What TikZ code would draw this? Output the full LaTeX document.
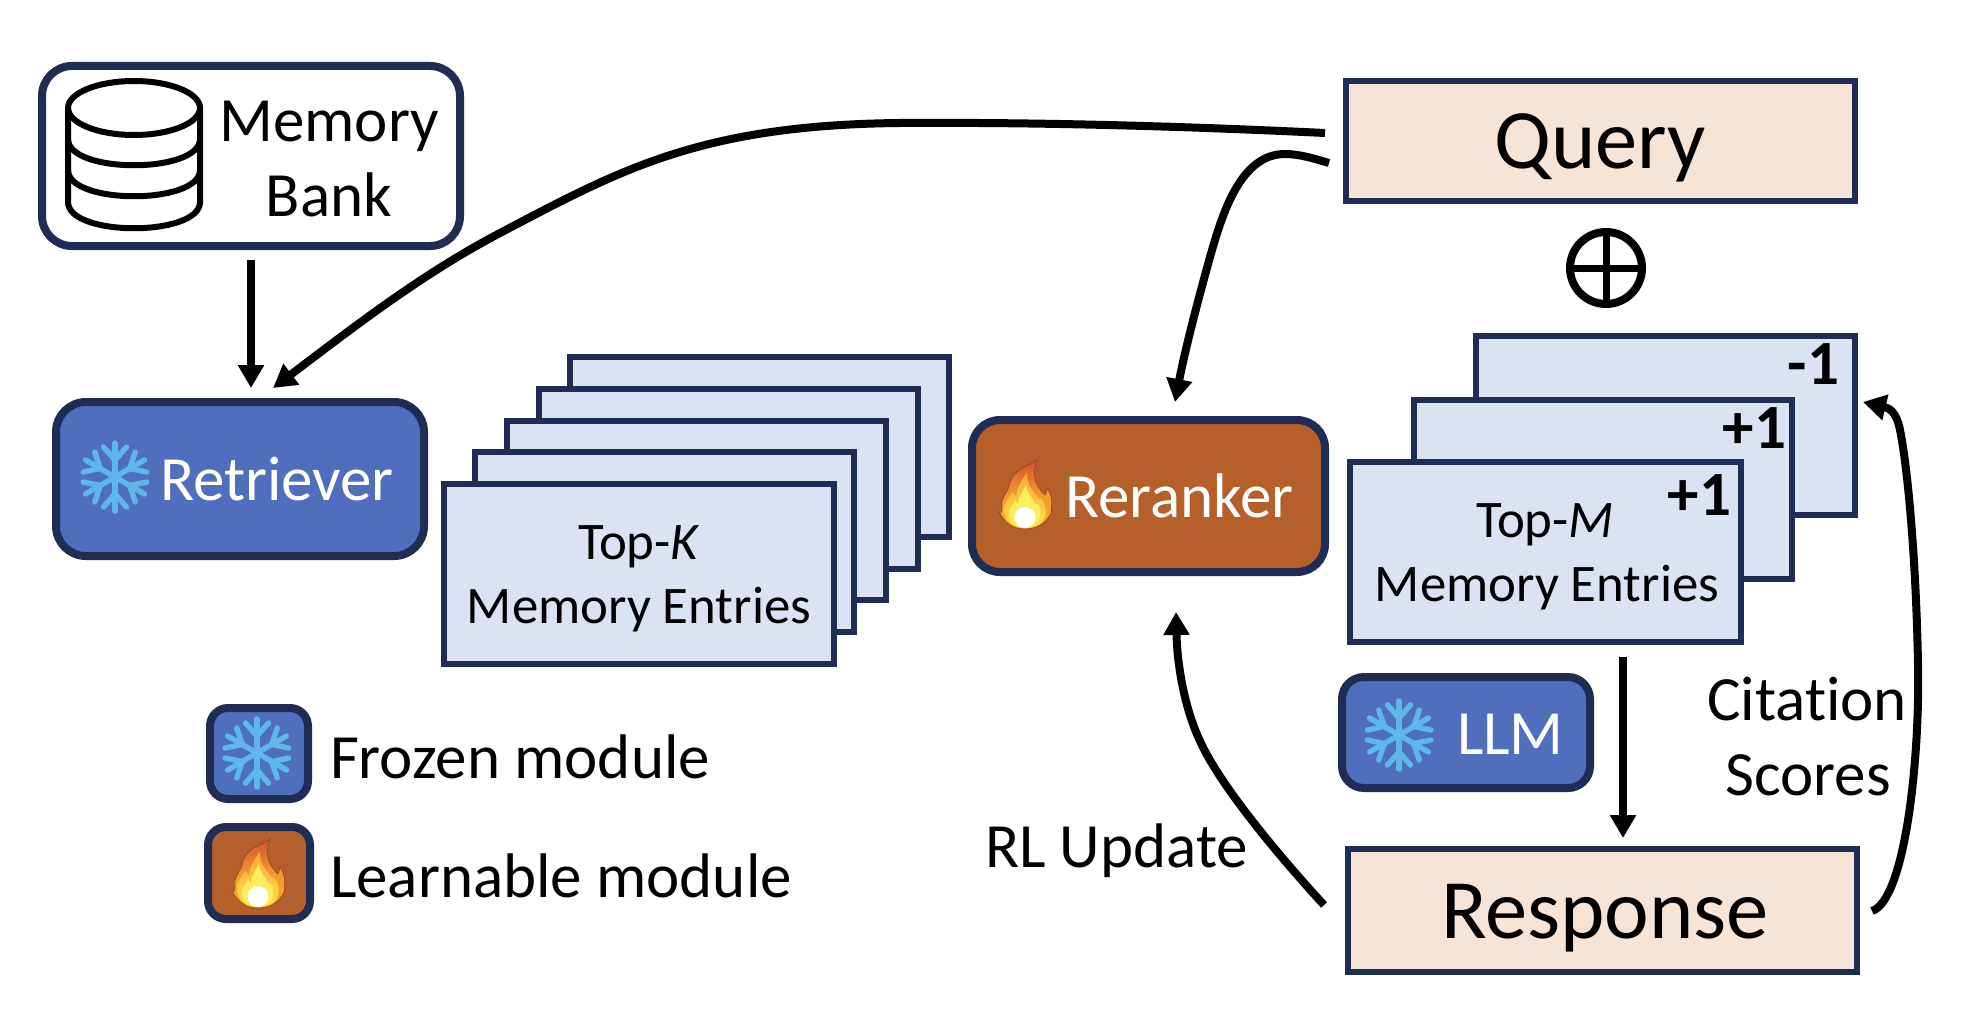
\documentclass[tikz,border=0pt]{standalone}
\usepackage{fontspec}
\setmainfont{Carlito}[Ligatures=NoCommon]
\usetikzlibrary{arrows.meta}
\definecolor{navy}{HTML}{1F2D54}
\definecolor{frozenblue}{HTML}{4F6FBD}
\definecolor{learnorange}{HTML}{B5602B}
\definecolor{peach}{HTML}{F6E4D7}
\definecolor{pale}{HTML}{DBE2F1}
\definecolor{flakeblue}{HTML}{5EB7E8}
\definecolor{fireA}{HTML}{D4502C}
\definecolor{fireB}{HTML}{F29A2E}
\definecolor{fireC}{HTML}{F7B02E}
\definecolor{fireD}{HTML}{F9A93A}
\definecolor{fireE}{HTML}{FCE04A}
\definecolor{fireF}{HTML}{FBEE5C}
\newcommand{\fsz}[1]{\fontsize{#1}{#1}\selectfont}
\newcommand{\rbox}[6]{\node[#6, minimum width={#4-#2}, minimum height={#5-#3}] (#1) at ({(#2+#4)/2},{(#3+#5)/2}) {};}
\tikzset{
  allnodes/.style={inner sep=0pt, outer sep=0pt},
  modulebox/.style={allnodes, draw=navy, line width=8pt, rectangle, rounded corners=#1},
  frozenbox/.style={modulebox=#1, fill=frozenblue},
  learnbox/.style={modulebox=#1, fill=learnorange},
  bankbox/.style={modulebox=30pt, fill=white},
  entrybox/.style={allnodes, draw=navy, line width=6pt, fill=pale, rectangle},
  peachbox/.style={allnodes, draw=navy, line width=6pt, fill=peach, rectangle},
  label/.style={allnodes, anchor=base, text=black, font=\fsz{63}},
  wlabel/.style={label, text=white},
  entrylabel/.style={label, font=\fsz{52.8}},
  bigl/.style={label, font=\fsz{84.5}},
  score/.style={allnodes, anchor=base east, font=\fsz{63}\bfseries},
  link/.style={line width=8pt, draw=black, line cap=butt, -{Triangle[length=23pt,width=25pt]}},
  cyl/.style={line width=6pt, draw=black, line join=round},
  flakeline/.style={line width=5.4pt, draw=flakeblue, line cap=round},
  flake/.pic={
    \foreach \a in {0,60,120,180,240,300}{
      \begin{scope}[rotate=\a]
        \draw[flakeline] (0,0) -- (0,-34);
        \draw[flakeline] (0,-17) -- (-11.5,-30);
        \draw[flakeline] (0,-17) -- (11.5,-30);
      \end{scope}
    }
  },
  fire/.pic={
    % outer flame
    \path[shade, top color=fireA, bottom color=fireC, middle color=fireB, draw=fireA!70!black, line width=0.5pt]
      (0,0) .. controls (-12,0) and (-20,-6) .. (-26,-17)
      .. controls (-23,-16) and (-23,-17) .. (-23,-21)
      .. controls (-25,-32) and (-16,-36) .. (-15,-47)
      .. controls (-11,-60) and (2,-62) .. (12,-69)
      .. controls (8,-58) and (9,-48) .. (14,-41)
      .. controls (17,-37) and (18,-35) .. (20,-34)
      .. controls (21,-37) and (22,-39) .. (22,-41)
      .. controls (26,-35) and (28,-28) .. (26,-20)
      .. controls (26,-17) and (26,-16) .. (27,-18)
      .. controls (23,-8) and (14,0) .. (0,0) -- cycle;
    % middle flame
    \path[shade, top color=fireD, bottom color=fireE]
      (0,-1) .. controls (-12,-1) and (-21,-8) .. (-21,-20)
      .. controls (-21,-28) and (-15,-31) .. (-13,-37)
      .. controls (-11,-35) and (-10,-34) .. (-9,-32)
      .. controls (-8,-42) and (-3,-50) .. (2,-56)
      .. controls (1,-45) and (8,-39) .. (12,-32)
      .. controls (14,-30) and (15,-29) .. (16,-31)
      .. controls (22,-23) and (23,-12) .. (15,-5)
      .. controls (10,-2) and (5,-1) .. (0,-1) -- cycle;
    % yellow core
    \path[fill=fireF]
      (0,-1) .. controls (-11,-1) and (-16,-8) .. (-16,-15)
      .. controls (-16,-21) and (-12,-24) .. (-10,-29)
      .. controls (-9,-27) and (-8,-26) .. (-7,-25)
      .. controls (-7,-32) and (-2,-38) .. (1,-44)
      .. controls (2,-35) and (8,-31) .. (10,-25)
      .. controls (11,-24) and (12,-24) .. (13,-25)
      .. controls (18,-16) and (16,-2) .. (0,-1) -- cycle;
    % hot centre
    \path[fill=white] (0,-11.5) ellipse [x radius=10.5pt, y radius=10.5pt];
  }
}
\begin{document}
\begin{tikzpicture}[x=1pt,y=-1pt]
\useasboundingbox[fill=white] (0,0) rectangle (1970,1014);

% Memory bank
\rbox{bank}{42}{66}{460}{246}{bankbox}
\draw[cyl] (134,108) ellipse [x radius=66pt, y radius=27pt];
\draw[cyl] (68,108) -- (68,202) .. controls (68,237) and (200,237) .. (200,202) -- (200,108);
\draw[cyl] (68,139) .. controls (68,174) and (200,174) .. (200,139);
\draw[cyl] (68,170) .. controls (68,205) and (200,205) .. (200,170);
\node[label] (tbank1) at (329,142) {Memory};
\node[label] (tbank2) at (329,216) {Bank};

% Retriever
\rbox{retriever}{56}{402}{424}{556}{frozenbox=30pt}
\pic at (115,477) {flake};
\node[wlabel, anchor=base west] (tretr) at (160,500) {Retriever};

% Top-K stack
\rbox{k1}{570}{357}{949}{537}{entrybox}
\rbox{k2}{539}{389}{918}{569}{entrybox}
\rbox{k3}{507}{421}{886}{600}{entrybox}
\rbox{k4}{475}{452}{854}{632}{entrybox}
\rbox{k5}{444}{484}{834}{664}{entrybox}
\node[entrylabel] (tk1) at (639,559) {Top-\textit{K}};
\node[entrylabel] (tk2) at (639,623) {Memory Entries};

% Reranker
\rbox{reranker}{972}{420}{1325}{572}{learnbox=28pt}
\pic at (1025,529) {fire};
\node[wlabel, anchor=base west] (trr) at (1065,517) {Reranker};

% Query
\rbox{query}{1346}{81}{1855}{201}{peachbox}
\node[bigl] (tq) at (1600,168) {Query};
\node[allnodes, circle, draw=black, line width=8pt, minimum size=72pt] (oplus) at (1606,268) {};
\draw[line width=7pt] (oplus.north) -- (oplus.south);
\draw[line width=7pt] (oplus.west) -- (oplus.east);

% Top-M stack
\rbox{m1}{1476}{336}{1855}{515}{entrybox}
\rbox{m2}{1414}{400}{1792}{579}{entrybox}
\rbox{m3}{1350}{462}{1741}{642}{entrybox}
\node[score] (s1) at (1839,384) {-1};
\node[score] (s2) at (1786,448) {+1};
\node[score] (s3) at (1731,515) {+1};
\node[entrylabel] (tm1) at (1545,537) {Top-\textit{M}};
\node[entrylabel] (tm2) at (1547,601) {Memory Entries};

% LLM
\rbox{llm}{1342}{677}{1590}{788}{frozenbox=22pt}
\pic at (1399,735) {flake};
\node[wlabel, anchor=base west] (tllm) at (1457,754) {LLM};

% Response
\rbox{response}{1348}{849}{1857}{972}{peachbox}
\node[bigl] (tresp) at (1605,938) {Response};

% Labels
\node[label] (tc1) at (1807,720) {Citation};
\node[label] (tc2) at (1808,795) {Scores};
\node[label, anchor=base west] (trl) at (985,867) {RL Update};

% Legend
\rbox{legf}{210}{708}{308}{799}{frozenbox=18pt}
\pic at (257,753) {flake};
\node[label, anchor=base west] (tlf) at (330,778) {Frozen module};
\rbox{legl}{208}{827}{310}{919}{learnbox=18pt}
\pic at (258,908) {fire};
\node[label, anchor=base west] (tll) at (330,897) {Learnable module};

% Connectors
\draw[link] ([shift={(0,14)}]bank.south) -- ([shift={(11,-14)}]retriever.north);
\draw[link] ([shift={(-21,-8)}]query.west)
  .. controls (1200,127) and (1050,122) .. (900,123)
  .. controls (700,125) and (620,170) .. (500,233)
  .. controls (420,275) and (350,330) .. ([shift={(33,-14)}]retriever.north);
\draw[link] ([shift={(-17,22)}]query.west)
  .. controls (1315,159) and (1300,154) .. (1285,154)
  .. controls (1240,154) and (1222,215) .. (1210,257)
  .. controls (1198,300) and (1185,350) .. ([shift={(26.5,-18)}]reranker.north);
\draw[link] ([shift={(-24,-5.5)}]response.west)
  .. controls (1290,868) and (1222,790) .. (1200,741)
  .. controls (1183,705) and (1177,660) .. ([shift={(27.5,40)}]reranker.south);
\draw[link] ([shift={(77.5,15)}]m3.south) -- ([shift={(20.5,-11)}]response.north);
\draw[link] ([shift={(15,0.5)}]response.east)
  .. controls (1905,900) and (1920,760) .. (1918,664)
  .. controls (1916,560) and (1908,470) .. (1900,430)
  .. controls (1896,410) and (1888,408) .. ([shift={(8,-23.5)}]m1.east);
\end{tikzpicture}
\end{document}
